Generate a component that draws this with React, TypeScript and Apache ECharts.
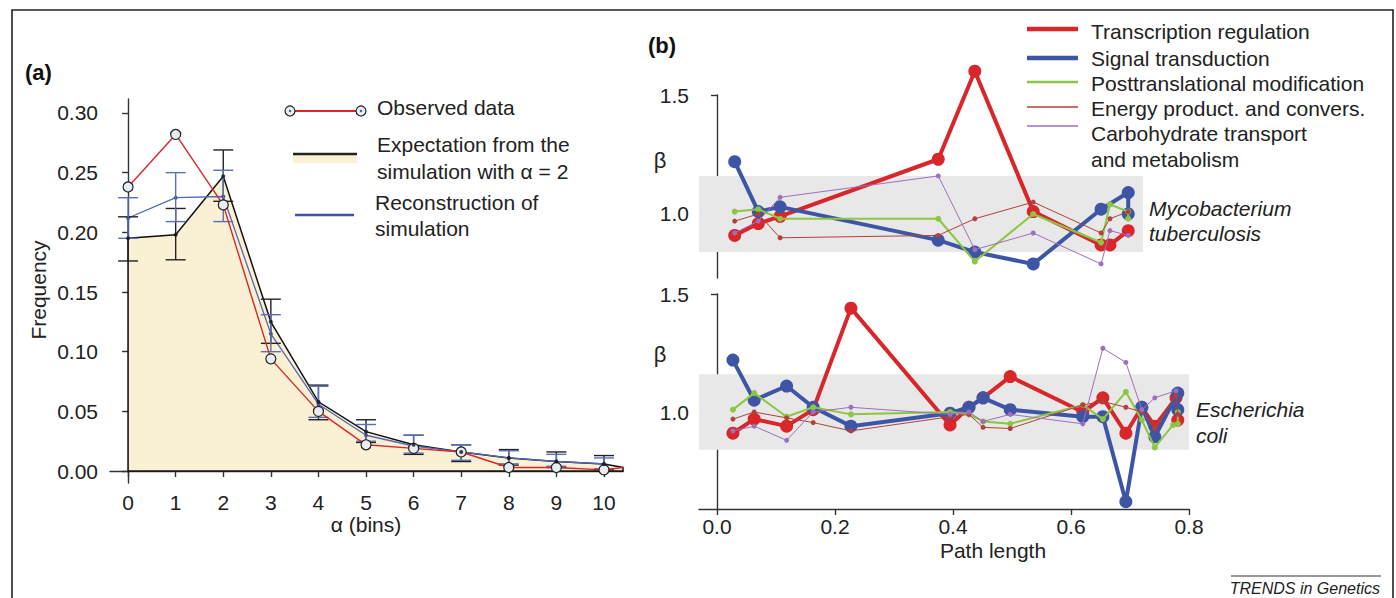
import { useEffect, useRef } from "react";
import * as echarts from "echarts";

// ---------- Panel (a) data ----------
const alphaBins = [0, 1, 2, 3, 4, 5, 6, 7, 8, 9, 10];
const observed = [0.238, 0.282, 0.223, 0.094, 0.05, 0.022, 0.019, 0.016, 0.003, 0.003, 0.001];
const expectation = [0.195, 0.198, 0.247, 0.125, 0.058, 0.033, 0.022, 0.016, 0.011, 0.008, 0.006];
const expLow = [0.176, 0.177, 0.226, 0.107, 0.043, 0.024, 0.014, 0.008, 0.005, 0.003, 0.001];
const expHigh = [0.213, 0.22, 0.269, 0.144, 0.072, 0.043, 0.03, 0.022, 0.018, 0.016, 0.013];
const reconstruction = [0.212, 0.229, 0.23, 0.115, 0.056, 0.03, 0.021, 0.016, 0.011, 0.008, 0.006];
const recLow = [0.195, 0.209, 0.209, 0.1, 0.045, 0.025, 0.015, 0.009, 0.006, 0.004, 0.002];
const recHigh = [0.229, 0.25, 0.252, 0.131, 0.071, 0.039, 0.03, 0.022, 0.017, 0.014, 0.011];
const tailAlpha = 10.4;
const observedTail = 0.003;
const expectationTail = 0.003;
const freqTicks = [0, 0.05, 0.1, 0.15, 0.2, 0.25, 0.3];

// ---------- Panel (b) data ----------
const pathTicks = [0, 0.2, 0.4, 0.6, 0.8];
const betaTicks = [1.0, 1.5];
const betaBand = [0.84, 1.16];
const mtbBandEnd = 0.722;
const ecoBandEnd = 0.8;

// Mycobacterium tuberculosis: [path length, beta]
const mtbTranscription = [[0.03, 0.91], [0.07, 0.96], [0.107, 0.99], [0.375, 1.23], [0.437, 1.6], [0.536, 1.01], [0.651, 0.87], [0.666, 0.87], [0.697, 0.93]];
const mtbSignal = [[0.03, 1.22], [0.07, 1.01], [0.107, 1.03], [0.375, 0.89], [0.437, 0.84], [0.536, 0.79], [0.651, 1.02], [0.697, 1.09], [0.697, 1.0]];
const mtbPosttrans = [[0.03, 1.01], [0.07, 1.02], [0.107, 0.98], [0.375, 0.98], [0.437, 0.8], [0.536, 1.0], [0.651, 0.88], [0.666, 1.04], [0.697, 1.01], [0.697, 0.98]];
const mtbEnergy = [[0.03, 0.97], [0.07, 1.0], [0.107, 0.9], [0.375, 0.91], [0.437, 0.98], [0.536, 1.05], [0.651, 0.92], [0.666, 0.98], [0.697, 1.01]];
const mtbCarbo = [[0.03, 0.92], [0.07, 0.97], [0.107, 1.07], [0.375, 1.16], [0.437, 0.85], [0.536, 0.92], [0.651, 0.79], [0.666, 0.93], [0.697, 0.91]];

// Escherichia coli: [path length, beta]
const ecoTranscription = [[0.027, 0.91], [0.063, 0.97], [0.118, 0.94], [0.163, 1.01], [0.227, 1.44], [0.395, 0.945], [0.427, 1.02], [0.451, 1.06], [0.497, 1.15], [0.62, 1.0], [0.654, 1.06], [0.693, 0.91], [0.72, 1.02], [0.742, 0.94], [0.778, 1.06], [0.781, 0.966]];
const ecoSignal = [[0.027, 1.22], [0.063, 1.05], [0.118, 1.11], [0.163, 1.02], [0.227, 0.94], [0.395, 0.995], [0.427, 1.02], [0.451, 1.06], [0.497, 1.01], [0.62, 0.98], [0.654, 0.98], [0.693, 0.62], [0.72, 1.02], [0.742, 0.895], [0.781, 1.08], [0.781, 1.01]];
const ecoPosttrans = [[0.027, 1.01], [0.063, 1.08], [0.118, 0.98], [0.163, 1.02], [0.227, 0.99], [0.395, 1.0], [0.427, 0.99], [0.451, 0.96], [0.497, 0.95], [0.62, 1.03], [0.654, 0.97], [0.693, 1.085], [0.72, 0.966], [0.742, 0.85], [0.773, 0.945], [0.781, 0.95], [0.781, 1.0]];
const ecoEnergy = [[0.027, 0.97], [0.063, 1.0], [0.118, 0.975], [0.163, 0.955], [0.227, 0.92], [0.395, 0.98], [0.427, 0.99], [0.451, 0.935], [0.497, 0.93], [0.62, 1.03], [0.654, 1.045], [0.693, 1.02], [0.72, 1.0], [0.742, 0.93], [0.778, 1.07], [0.781, 0.99]];
const ecoCarbo = [[0.027, 0.92], [0.063, 0.94], [0.118, 0.88], [0.163, 1.0], [0.227, 1.02], [0.395, 0.99], [0.427, 1.0], [0.451, 0.96], [0.497, 0.99], [0.62, 0.95], [0.654, 1.27], [0.693, 1.21], [0.72, 1.01], [0.742, 1.06], [0.778, 1.09]];

const categories = [
  "Transcription regulation",
  "Signal transduction",
  "Posttranslational modification",
  "Energy product. and convers.",
  "Carbohydrate transport",
];

const FONT = "'Liberation Sans', Arial, Helvetica, sans-serif";
const TXT = "#222";
const RED = "#d8262b";
const BLUE = "#3d55a5";
const GREEN = "#8dc641";
const BROWN = "#b3403b";
const PURPLE = "#9d6fbd";
const CREAM = "#faf0d3";

const catStyles = [
  { color: RED, width: 4, size: 13 },
  { color: BLUE, width: 4, size: 13 },
  { color: GREEN, width: 2, size: 6 },
  { color: BROWN, width: 1, size: 5 },
  { color: PURPLE, width: 1, size: 5 },
];

function errorBars(lows: number[], highs: number[], color: string, z: number) {
  return {
    type: "custom",
    xAxisIndex: 0,
    yAxisIndex: 0,
    z,
    silent: true,
    data: alphaBins.map((x, i) => [x, lows[i], highs[i]]),
    encode: { x: 0, y: [1, 2] },
    renderItem: (_p: any, api: any) => {
      const x = api.value(0);
      const lo = api.coord([x, api.value(1)]);
      const hi = api.coord([x, api.value(2)]);
      const w = 10;
      const st = { stroke: color, lineWidth: 1.4 };
      return {
        type: "group",
        children: [
          { type: "line", shape: { x1: lo[0], y1: lo[1], x2: hi[0], y2: hi[1] }, style: st },
          { type: "line", shape: { x1: lo[0] - w, y1: lo[1], x2: lo[0] + w, y2: lo[1] }, style: st },
          { type: "line", shape: { x1: hi[0] - w, y1: hi[1], x2: hi[0] + w, y2: hi[1] }, style: st },
        ],
      };
    },
  };
}

function band(end: number, gi: number) {
  return {
    type: "custom",
    xAxisIndex: gi,
    yAxisIndex: gi,
    z: 1,
    silent: true,
    data: [[-0.0305, betaBand[0], end, betaBand[1]]],
    encode: { x: [0, 2], y: [1, 3] },
    renderItem: (_p: any, api: any) => {
      const a = api.coord([api.value(0), api.value(3)]);
      const b = api.coord([api.value(2), api.value(1)]);
      return {
        type: "rect",
        shape: { x: a[0], y: a[1], width: b[0] - a[0], height: b[1] - a[1] },
        style: { fill: "#e8e8e8" },
      };
    },
  };
}

function catSeries(data: number[][], idx: number, gi: number) {
  const s = catStyles[idx];
  return {
    type: "line",
    name: categories[idx],
    xAxisIndex: gi,
    yAxisIndex: gi,
    z: 3 + idx,
    data,
    symbol: "circle",
    symbolSize: s.size,
    showSymbol: true,
    lineStyle: { color: s.color, width: s.width },
    itemStyle: { color: s.color },
    clip: false,
  };
}

const axisLineStyle = { color: "#333", width: 1.4 };
const labelBase = { color: TXT, fontFamily: FONT, fontSize: 21 };

export default function App() {
  const ref = useRef<HTMLDivElement>(null);
  useEffect(() => {
    const chart = echarts.init(ref.current!, null, { renderer: "svg" });
    const polygon = [
      [0, 0],
      ...alphaBins.map((x, i) => [x, expectation[i]]),
      [tailAlpha, expectationTail],
      [tailAlpha, 0],
    ];
    const option: any = {
      animation: false,
      backgroundColor: "#fff",
      grid: [
        { left: 110, top: 99, width: 513, height: 384 },
        { left: 699, top: 95, width: 490, height: 183 },
        { left: 699, top: 294, width: 490, height: 215 },
      ],
      xAxis: [
        {
          type: "value",
          gridIndex: 0,
          min: -0.38,
          max: 10.4,
          axisLine: { show: true, lineStyle: axisLineStyle },
          axisTick: { show: true, length: 6, lineStyle: axisLineStyle, customValues: alphaBins },
          axisLabel: { ...labelBase, margin: 9, customValues: alphaBins, formatter: (v: number) => String(v) },
          splitLine: { show: false },
        },
        { type: "value", gridIndex: 1, min: -0.0305, max: 0.8, show: false },
        {
          type: "value",
          gridIndex: 2,
          min: -0.0305,
          max: 0.8,
          axisLine: { show: true, lineStyle: axisLineStyle },
          axisTick: { show: true, length: 6, lineStyle: axisLineStyle, customValues: pathTicks },
          axisLabel: { ...labelBase, margin: 7, customValues: pathTicks, formatter: (v: number) => v.toFixed(1) },
          splitLine: { show: false },
        },
      ],
      yAxis: [
        {
          type: "value",
          gridIndex: 0,
          min: -0.01,
          max: 0.3117,
          axisLine: { show: true, lineStyle: axisLineStyle },
          axisTick: { show: true, length: 6, lineStyle: axisLineStyle, customValues: freqTicks },
          axisLabel: { ...labelBase, margin: 12, customValues: freqTicks, formatter: (v: number) => v.toFixed(2) },
          splitLine: { show: false },
        },
        {
          type: "value",
          gridIndex: 1,
          min: 0.731,
          max: 1.5,
          axisLine: { show: true, lineStyle: axisLineStyle },
          axisTick: { show: true, length: 6, lineStyle: axisLineStyle, customValues: betaTicks },
          axisLabel: { ...labelBase, margin: 10, customValues: betaTicks, formatter: (v: number) => v.toFixed(1) },
          splitLine: { show: false },
        },
        {
          type: "value",
          gridIndex: 2,
          min: 0.589,
          max: 1.5,
          axisLine: { show: true, lineStyle: axisLineStyle },
          axisTick: { show: true, length: 6, lineStyle: axisLineStyle, customValues: betaTicks },
          axisLabel: { ...labelBase, margin: 10, customValues: betaTicks, formatter: (v: number) => v.toFixed(1) },
          splitLine: { show: false },
        },
      ],
      series: [
        {
          type: "custom",
          xAxisIndex: 0,
          yAxisIndex: 0,
          z: 1,
          silent: true,
          data: [[0, 0]],
          renderItem: (_p: any, api: any) => ({
            type: "polygon",
            shape: { points: polygon.map((p) => api.coord(p)) },
            style: { fill: CREAM, stroke: "#111", lineWidth: 1.5 },
          }),
        },
        {
          type: "line",
          xAxisIndex: 0,
          yAxisIndex: 0,
          z: 3,
          data: alphaBins.map((x, i) => [x, reconstruction[i]]),
          symbol: "circle",
          symbolSize: 4,
          lineStyle: { color: "#5468b3", width: 1.3 },
          itemStyle: { color: "#3d55a5" },
        },
        errorBars(expLow, expHigh, "#222", 4),
        errorBars(recLow, recHigh, "#5b6fb8", 5),
        {
          type: "line",
          xAxisIndex: 0,
          yAxisIndex: 0,
          z: 6,
          data: [
            ...alphaBins.map((x, i) => [x, observed[i]]),
            { value: [tailAlpha, observedTail], symbol: "none" },
          ],
          symbol: "circle",
          symbolSize: 10,
          lineStyle: { color: RED, width: 1.4 },
          itemStyle: { color: "#e6edf3", borderColor: "#222", borderWidth: 1.2 },
        },
        {
          type: "scatter",
          xAxisIndex: 0,
          yAxisIndex: 0,
          z: 7,
          data: alphaBins.map((x, i) => [x, expectation[i]]),
          symbolSize: 4,
          itemStyle: { color: "#111" },
        },
        band(mtbBandEnd, 1),
        catSeries(mtbTranscription, 0, 1),
        catSeries(mtbSignal, 1, 1),
        catSeries(mtbPosttrans, 2, 1),
        catSeries(mtbEnergy, 3, 1),
        catSeries(mtbCarbo, 4, 1),
        band(ecoBandEnd, 2),
        catSeries(ecoTranscription, 0, 2),
        catSeries(ecoSignal, 1, 2),
        catSeries(ecoPosttrans, 2, 2),
        catSeries(ecoEnergy, 3, 2),
        catSeries(ecoCarbo, 4, 2),
      ],
      graphic: [
        { type: "rect", shape: { x: 12, y: 10, width: 1381, height: 620 }, style: { fill: "none", stroke: "#222", lineWidth: 1.6 }, silent: true },
        { type: "text", x: 25, y: 72, style: { text: "(a)", font: `bold 22px ${FONT}`, fill: "#111", textVerticalAlign: "middle" } },
        { type: "text", x: 648, y: 45, style: { text: "(b)", font: `bold 22px ${FONT}`, fill: "#111", textVerticalAlign: "middle" } },
        { type: "text", x: 38, y: 290, rotation: Math.PI / 2, style: { text: "Frequency", font: `21px ${FONT}`, fill: TXT, textAlign: "center", textVerticalAlign: "middle" } },
        { type: "text", x: 366, y: 524, style: { text: "α (bins)", font: `21px ${FONT}`, fill: TXT, textAlign: "center", textVerticalAlign: "middle" } },
        { type: "text", x: 993, y: 550, style: { text: "Path length", font: `21px ${FONT}`, fill: TXT, textAlign: "center", textVerticalAlign: "middle" } },
        { type: "text", x: 660, y: 160, style: { text: "β", font: `22px ${FONT}`, fill: TXT, textAlign: "center", textVerticalAlign: "middle" } },
        { type: "text", x: 660, y: 354, style: { text: "β", font: `22px ${FONT}`, fill: TXT, textAlign: "center", textVerticalAlign: "middle" } },
        // legend (a)
        { type: "line", shape: { x1: 295, y1: 111, x2: 356, y2: 111 }, style: { stroke: RED, lineWidth: 2 } },
        { type: "circle", shape: { cx: 290, cy: 111, r: 5 }, style: { fill: "#e6edf3", stroke: "#222", lineWidth: 1.2 } },
        { type: "circle", shape: { cx: 361, cy: 111, r: 5 }, style: { fill: "#e6edf3", stroke: "#222", lineWidth: 1.2 } },
        { type: "circle", shape: { cx: 290, cy: 111, r: 1.2 }, style: { fill: BLUE } },
        { type: "circle", shape: { cx: 361, cy: 111, r: 1.2 }, style: { fill: BLUE } },
        { type: "rect", shape: { x: 293, y: 154, width: 64, height: 9 }, style: { fill: CREAM } },
        { type: "line", shape: { x1: 293, y1: 154, x2: 357, y2: 154 }, style: { stroke: "#222", lineWidth: 2.5 } },
        { type: "line", shape: { x1: 295, y1: 215, x2: 354, y2: 215 }, style: { stroke: BLUE, lineWidth: 2.5 } },
        { type: "text", x: 377, y: 107, style: { text: "Observed data", font: `21px ${FONT}`, fill: TXT, textVerticalAlign: "middle" } },
        { type: "text", x: 377, y: 144, style: { text: "Expectation from the", font: `21px ${FONT}`, fill: TXT, textVerticalAlign: "middle" } },
        { type: "text", x: 377, y: 171, style: { text: "simulation with α = 2", font: `21px ${FONT}`, fill: TXT, textVerticalAlign: "middle" } },
        { type: "text", x: 375, y: 202, style: { text: "Reconstruction of", font: `21px ${FONT}`, fill: TXT, textVerticalAlign: "middle" } },
        { type: "text", x: 375, y: 228, style: { text: "simulation", font: `21px ${FONT}`, fill: TXT, textVerticalAlign: "middle" } },
        // legend (b)
        ...[29, 58, 82, 107, 126].map((y, i) => ({
          type: "line",
          shape: { x1: 1027, y1: y, x2: 1078, y2: y },
          style: { stroke: catStyles[i].color, lineWidth: catStyles[i].width + (i < 2 ? 0.5 : 0.4) },
        })),
        ...[31, 58, 83, 108, 133].map((y, i) => ({
          type: "text",
          x: 1091,
          y,
          style: { text: categories[i], font: `21px ${FONT}`, fill: TXT, textVerticalAlign: "middle" },
        })),
        { type: "text", x: 1091, y: 159, style: { text: "and metabolism", font: `21px ${FONT}`, fill: TXT, textVerticalAlign: "middle" } },
        // species labels
        { type: "text", x: 1149, y: 208, style: { text: "Mycobacterium", font: `italic 21px ${FONT}`, fill: TXT, textVerticalAlign: "middle" } },
        { type: "text", x: 1149, y: 233, style: { text: "tuberculosis", font: `italic 21px ${FONT}`, fill: TXT, textVerticalAlign: "middle" } },
        { type: "text", x: 1196, y: 409, style: { text: "Escherichia", font: `italic 21px ${FONT}`, fill: TXT, textVerticalAlign: "middle" } },
        { type: "text", x: 1196, y: 435, style: { text: "coli", font: `italic 21px ${FONT}`, fill: TXT, textVerticalAlign: "middle" } },
        // footer
        { type: "line", shape: { x1: 1231, y1: 576, x2: 1381, y2: 576 }, style: { stroke: "#333", lineWidth: 1 } },
        { type: "text", x: 1380, y: 588, style: { text: "TRENDS in Genetics", font: `italic 16px ${FONT}`, fill: TXT, textAlign: "right", textVerticalAlign: "middle" } },
      ],
    };
    chart.setOption(option);
    return () => chart.dispose();
  }, []);
  return (
    <div
      ref={ref}
      style={{ position: "fixed", left: 0, top: 0, width: 1396, height: 598, background: "#fff" }}
    />
  );
}
